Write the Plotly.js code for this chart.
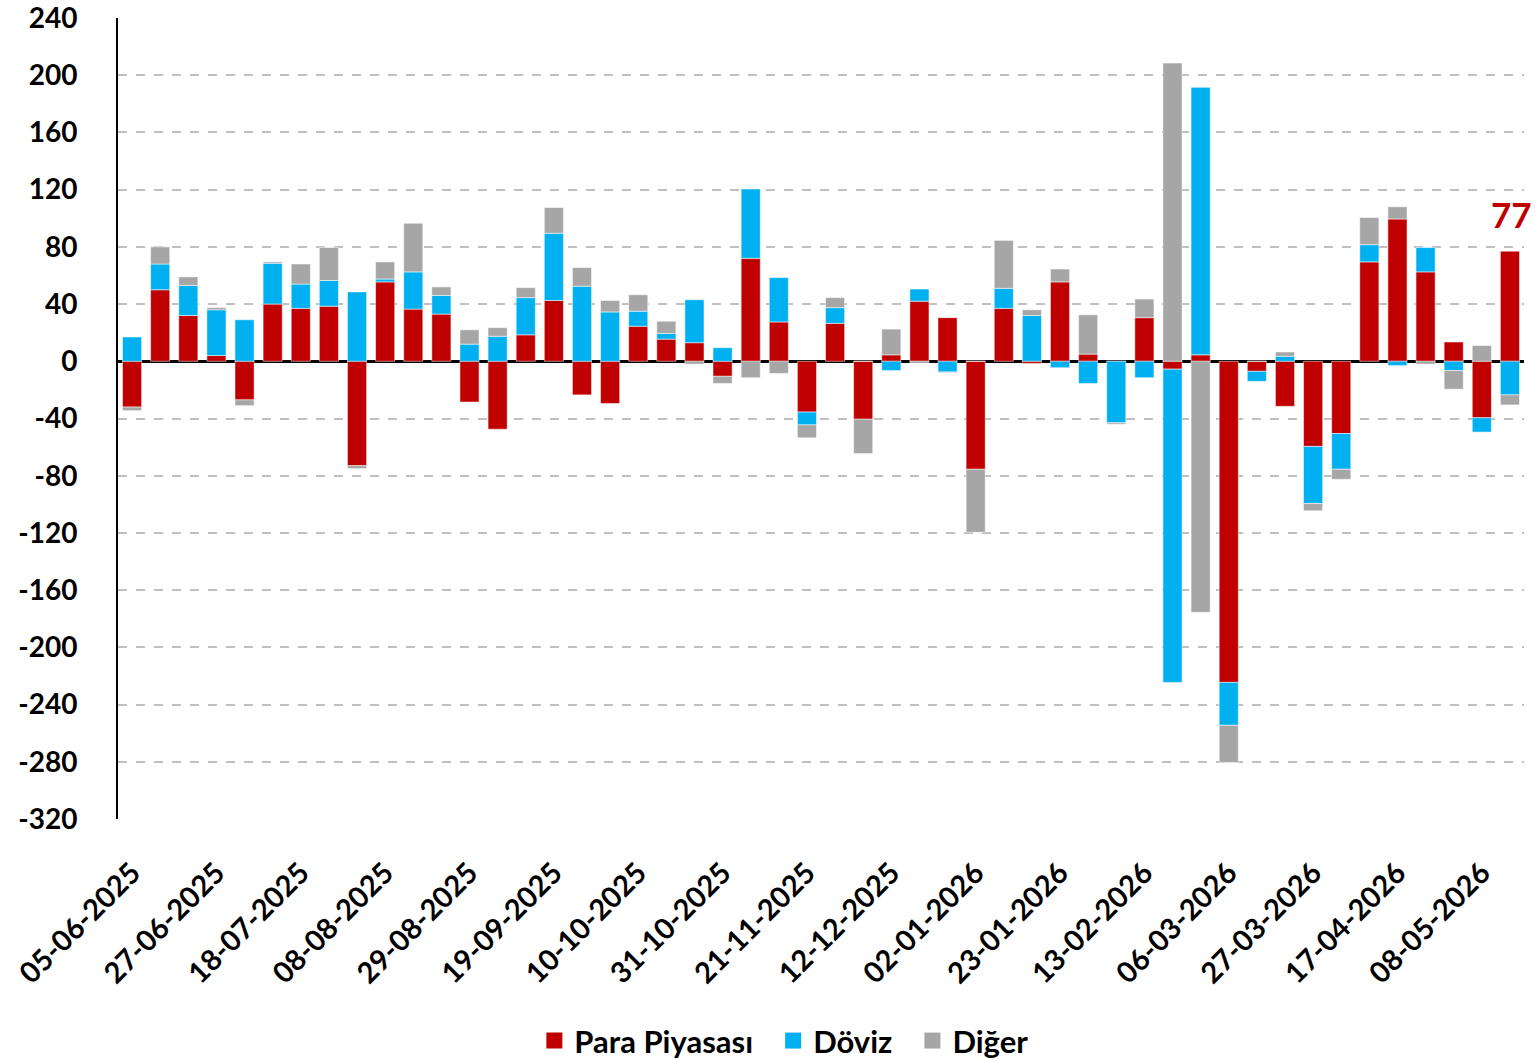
<!DOCTYPE html>
<html>
<head>
<meta charset="utf-8">
<script src="https://cdn.plot.ly/plotly-3.0.1.min.js"></script>
<style>
html,body{margin:0;padding:0;background:#fff;}
#chart{width:1537px;height:1060px;}
</style>
</head>
<body>
<div id="chart"></div>
<script>
const dates = [
"05-06-2025","13-06-2025","20-06-2025","27-06-2025","04-07-2025","11-07-2025","18-07-2025","25-07-2025",
"01-08-2025","08-08-2025","15-08-2025","22-08-2025","29-08-2025","05-09-2025","12-09-2025","19-09-2025",
"26-09-2025","03-10-2025","10-10-2025","17-10-2025","24-10-2025","31-10-2025","07-11-2025","14-11-2025",
"21-11-2025","28-11-2025","05-12-2025","12-12-2025","19-12-2025","26-12-2025","02-01-2026","09-01-2026",
"16-01-2026","23-01-2026","30-01-2026","06-02-2026","13-02-2026","20-02-2026","27-02-2026","06-03-2026",
"13-03-2026","20-03-2026","27-03-2026","03-04-2026","10-04-2026","17-04-2026","24-04-2026","01-05-2026",
"08-05-2026","15-05-2026"];

const tickDates = ["05-06-2025","27-06-2025","18-07-2025","08-08-2025","29-08-2025","19-09-2025","10-10-2025",
"31-10-2025","21-11-2025","12-12-2025","02-01-2026","23-01-2026","13-02-2026","06-03-2026","27-03-2026",
"17-04-2026","08-05-2026"];

const seriesNames = ["Para Piyasası", "Döviz", "Diğer"];

const paraPiyasasi = [-32, 50, 32, 4, -27, 40, 37, 38.5, -73, 55.5, 36.5, 33, -28.5, -47.5, 18.5, 42.5, -23.5, -29.5, 24.5, 15.5,
  13, -10.5, 72, 27.5, -35.5, 26.5, -40.5, 4.5, 42, 30.5, -75.5, 37, -1.5, 55.5, 5, 0, 30.5, -5.5, 4.5, -224.5,
  -7, -31.5, -59.5, -50.5, 69.5, 99.5, 62.5, 13.5, -39.5, 77];
const doviz = [17, 18, 21, 32, 29, 28.5, 17, 18, 48.5, 2, 26, 13, 12, 17.5, 26, 47, 52.5, 34.5, 10.5, 4,
  30, 9.5, 48.5, 31, -9, 11, 0, -6.5, 8.5, -7.5, 0, 14, 32, -4.5, -15.5, -43, -11.5, -219, 187, -30,
  -7, 3.5, -40, -25, 12, -3, 17, -6.5, -10, -23.5];
const diger = [-2.5, 12, 6, 1.5, -4, 1, 14, 23, -2, 12, 34, 6, 10, 6, 7, 18, 13, 8, 11.5, 8.5,
  -2, -5, -11.5, -8.5, -9, 7, -24, 18, -1, -0.5, -44, 33.5, 4, 9, 27.5, -1, 13, 208.5, -175.5, -26,
  0, 3, -5, -7, 19, 8.5, -2, -13, 11, -7];

const yTickVals = [240, 200, 160, 120, 80, 40, 0, -40, -80, -120, -160, -200, -240, -280, -320];
const yTickText = ["240","200","160","120","80","40","0","-40","-80","-120","-160","-200","-240","-280","-320"];

const lastLabel = "77";

const FONT = "Lato, 'Open Sans', sans-serif";
const COLORS = ["#C00000", "#00B0F0", "#A6A6A6"];
const lineStyle = {color: "rgba(255,255,255,0.5)", width: 1};
const PAD = "\u00a0\u00a0";

const values = [paraPiyasasi, doviz, diger];
const traces = [];
values.forEach((v, i) => {
  traces.push({type: "bar", name: seriesNames[i], x: dates, y: v, showlegend: false,
    marker: {color: COLORS[i], line: lineStyle}});
});
// legend entries with larger square swatches
seriesNames.forEach((n, i) => {
  traces.push({type: "scatter", mode: "markers", name: i < seriesNames.length - 1 ? n + PAD : n,
    x: [null], y: [null], showlegend: true,
    marker: {symbol: "square", size: 16, color: COLORS[i]}});
});

const layout = {
  width: 1537, height: 1060,
  margin: {l: 118, r: 13, t: 18, b: 241, autoexpand: false},
  paper_bgcolor: "#fff", plot_bgcolor: "#fff",
  barmode: "relative",
  bargap: 0.32,
  showlegend: true,
  legend: {
    orientation: "h", xref: "container", yref: "container",
    x: 0.510, xanchor: "center", y: 0.018, yanchor: "middle",
    font: {family: FONT, size: 31, color: "#000", weight: "bold"},
    traceorder: "normal", itemwidth: 30
  },
  xaxis: {
    type: "category",
    range: [-0.5, 49.5],
    automargin: false,
    tickmode: "array", tickvals: tickDates, ticktext: tickDates,
    tickangle: -45,
    tickfont: {family: FONT, size: 29, color: "#000", weight: "bold"},
    ticklabelstandoff: 30, ticklabeloverflow: "allow",
    showgrid: false, showline: false, ticks: "", zeroline: false
  },
  yaxis: {
    range: [-320, 240],
    automargin: false,
    tickmode: "array", tickvals: yTickVals, ticktext: yTickText,
    tickfont: {family: FONT, size: 28, color: "#000", weight: "bold"},
    showgrid: true, gridcolor: "#C0C0C0", gridwidth: 2, griddash: "dash",
    zeroline: true, zerolinecolor: "#000", zerolinewidth: 3,
    showline: true, linecolor: "#000", linewidth: 2,
    ticks: "", ticklabelstandoff: 33, ticklabeloverflow: "allow"
  },
  annotations: [{
    x: dates[dates.length - 1], y: paraPiyasasi[paraPiyasasi.length - 1],
    xref: "x", yref: "y", text: lastLabel, showarrow: false,
    yanchor: "bottom", yshift: 14, xshift: 2,
    font: {family: FONT, size: 35, color: "#C00000", weight: "bold"}
  }]
};

Plotly.newPlot("chart", traces, layout, {staticPlot: true, displayModeBar: false});
</script>
</body>
</html>
